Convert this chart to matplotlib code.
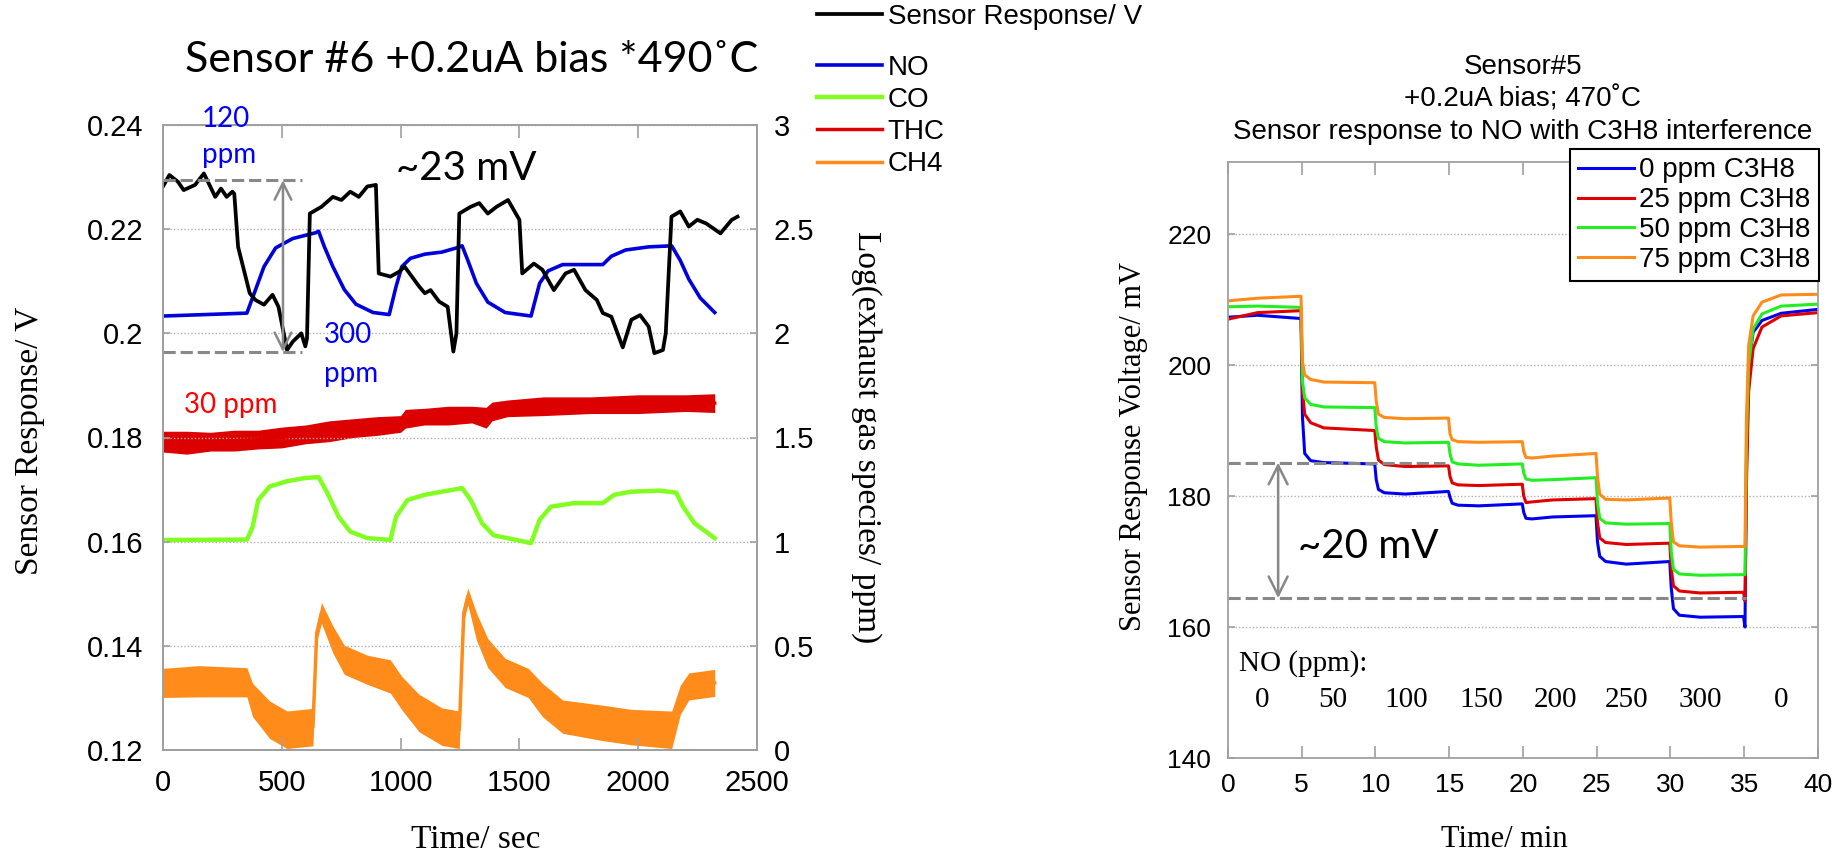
import matplotlib
matplotlib.use('Agg')
import matplotlib.pyplot as plt
from matplotlib.ticker import FuncFormatter

SANS = ['Liberation Sans', 'DejaVu Sans']
SERIF = ['Liberation Serif', 'DejaVu Serif']
CAL = ['Lato', 'DejaVu Sans']
plt.rcParams['font.family'] = SANS

# ---------------- left panel: sensor #6 ----------------
black_t = [0, 27, 63, 87, 135, 172, 220, 244, 268, 292, 300, 316, 365, 389, 425, 461, 486, 522, 546, 582,
           599, 606, 618, 667, 715, 751, 788, 824, 860, 896, 908, 957, 993, 1017, 1078, 1102, 1126, 1162, 1198, 1222,
           1235, 1247, 1295, 1331, 1367, 1404, 1452, 1500, 1512, 1561, 1597, 1645, 1694, 1730, 1778, 1826, 1851, 1887,
           1935, 1971, 2008, 2044, 2068, 2104, 2116, 2140, 2177, 2213, 2249, 2286, 2346, 2394, 2418]
black_v = [.2282, .2304, .2291, .2275, .2285, .2307, .2262, .2278, .2262, .2272, .2268, .2166, .2077, .2064, .2055,
           .2074, .2051, .1968, .1984, .2000, .1975, .1990, .2230, .2243, .2262, .2256, .2272, .2262, .2282, .2285,
           .2115, .2109, .2118, .2128, .2090, .2077, .2083, .2061, .2051, .1965, .2000, .2230, .2243, .2250, .2230,
           .2243, .2256, .2218, .2115, .2134, .2122, .2083, .2115, .2122, .2083, .2064, .2039, .2032, .1973, .2026,
           .2035, .2013, .1962, .1968, .2000, .2224, .2234, .2205, .2218, .2211, .2192, .2218, .2224]

no_t = [0, 353, 389, 425, 474, 546, 643, 655, 679, 715, 763, 812, 884, 952, 981, 1005, 1041, 1102, 1174, 1235,
        1259, 1283, 1319, 1367, 1440, 1549, 1585, 1621, 1682, 1851, 1887, 1947, 2044, 2141, 2177, 2213, 2261, 2322]
no_log = [2.083, 2.097, 2.208, 2.32, 2.41, 2.455, 2.483, 2.49, 2.416, 2.32, 2.21, 2.14, 2.10, 2.09, 2.225, 2.32,
          2.36, 2.38, 2.39, 2.41, 2.42, 2.35, 2.24, 2.15, 2.10, 2.083, 2.24, 2.30, 2.33, 2.33, 2.37, 2.40, 2.415,
          2.42, 2.35, 2.26, 2.17, 2.10]

co_t = [0, 353, 377, 401, 449, 522, 594, 655, 691, 739, 788, 860, 957, 981, 1029, 1102, 1174, 1259, 1295, 1343,
        1392, 1488, 1549, 1585, 1633, 1730, 1851, 1899, 1971, 2092, 2160, 2189, 2237, 2322]
co_log = [1.008, 1.01, 1.07, 1.20, 1.265, 1.29, 1.305, 1.31, 1.235, 1.12, 1.048, 1.017, 1.008, 1.12, 1.20, 1.225,
          1.24, 1.257, 1.20, 1.088, 1.03, 1.008, 0.993, 1.105, 1.168, 1.185, 1.185, 1.225, 1.24, 1.245, 1.235,
          1.168, 1.088, 1.017]

thc_t = [0, 100, 200, 300, 400, 500, 600, 700, 800, 900, 1000, 1020, 1100, 1200, 1300, 1360, 1385, 1450, 1600,
         1800, 2000, 2200, 2322]
thc_log = [1.48, 1.475, 1.48, 1.485, 1.49, 1.50, 1.515, 1.53, 1.545, 1.555, 1.565, 1.59, 1.60, 1.605, 1.61, 1.595,
           1.625, 1.64, 1.65, 1.655, 1.66, 1.665, 1.665]
thc_spread = [0.05, 0.055, 0.045, 0.05, 0.045, 0.05, 0.045, 0.05, 0.045, 0.045, 0.04, 0.045, 0.04, 0.045, 0.04,
              0.05, 0.045, 0.04, 0.045, 0.04, 0.045, 0.04, 0.045]

ch4_t = [0, 150, 353, 377, 449, 522, 631, 647, 667, 715, 763, 860, 957, 1005, 1078, 1174, 1247, 1266, 1283, 1319,
         1367, 1440, 1537, 1597, 1682, 1851, 1971, 2141, 2177, 2213, 2322]
ch4_log = [0.322, 0.33, 0.325, 0.24, 0.145, 0.097, 0.11, 0.5625, 0.658, 0.53, 0.433, 0.385, 0.353, 0.273, 0.177,
           0.112, 0.097, 0.658, 0.738, 0.593, 0.465, 0.37, 0.322, 0.24, 0.16, 0.13, 0.11, 0.097, 0.24, 0.305, 0.322]
ch4_spread = [0.07, 0.075, 0.07, 0.08, 0.09, 0.09, 0.09, 0.04, 0.05, 0.065, 0.07, 0.07, 0.08, 0.08, 0.09, 0.09,
              0.09, 0.04, 0.04, 0.065, 0.07, 0.07, 0.07, 0.08, 0.08, 0.085, 0.085, 0.09, 0.07, 0.065, 0.065]

left_gap = [0.2294, 0.1964]      # ~23 mV marker levels (V)

# ---------------- right panel: sensor #5 ----------------
t_min = [0, 2, 4.95, 5.05, 5.2, 5.6, 6.5, 9.95, 10.05, 10.2, 10.6, 12, 14.95, 15.05, 15.2, 15.6, 17, 19.95,
         20.05, 20.2, 20.6, 22, 24.95, 25.05, 25.2, 25.6, 27, 29.95, 30.05, 30.2, 30.6, 32, 34.95,
         35.05, 35.15, 35.3, 35.6, 36.2, 37.5, 40]
c3h8_0 = [207.3, 207.6, 207.1, 192, 186.5, 185.4, 185.1, 184.9, 182.5, 181.0, 180.5, 180.3, 180.7,
          179.8, 178.9, 178.6, 178.5, 178.8, 177.5, 176.6, 176.5, 176.8, 177.0, 173, 170.8, 170.0, 169.6, 170.0,
          166, 162.8, 161.8, 161.5, 161.6, 160.0, 185, 200, 205, 206.8, 207.9, 208.5]
c3h8_25 = [207.0, 208.0, 208.3, 196, 192.5, 191.2, 190.4, 190.0, 187.5, 185.5, 184.8, 184.5, 184.6,
           183.0, 182.0, 181.7, 181.6, 181.8, 180.0, 179.0, 179.1, 179.4, 179.6, 176.0, 173.6, 172.9, 172.6, 172.8,
           169, 166.3, 165.5, 165.2, 165.3, 164.0, 182, 196, 202.5, 205.8, 207.5, 208.0]
c3h8_50 = [208.9, 209.0, 208.8, 197.5, 195.0, 194.0, 193.6, 193.5, 190.5, 188.8, 188.3, 188.1, 188.2,
           186.5, 185.2, 184.9, 184.7, 184.9, 183.5, 182.6, 182.4, 182.5, 182.8, 179, 176.6, 175.9, 175.7, 175.8,
           171.5, 168.8, 168.1, 167.9, 168.0, 168.0, 188, 200, 205.5, 207.8, 209.0, 209.3]
c3h8_75 = [209.8, 210.2, 210.5, 200.5, 198.5, 197.8, 197.4, 197.3, 194.5, 192.5, 192.0, 191.8, 191.9,
           189.5, 188.6, 188.3, 188.2, 188.3, 186.8, 185.9, 185.8, 186.1, 186.5, 183, 180.3, 179.5, 179.4, 179.7,
           176, 173.0, 172.4, 172.2, 172.3, 172.3, 192, 203, 207.5, 209.6, 210.7, 210.8]
c3h8_labels = ['0 ppm C3H8', '25 ppm C3H8', '50 ppm C3H8', '75 ppm C3H8']
no_steps = ['0', '50', '100', '150', '200', '250', '300', '0']
no_step_x = [2.3, 7.1, 12.1, 17.2, 22.2, 27.0, 32.0, 37.5]
right_gap = [185.1, 164.4]       # ~20 mV marker levels (mV)

W, H = 1849, 857
fig = plt.figure(figsize=(W / 100, H / 100), dpi=100)

FRAME = '#a0a0a0'
GRID = dict(linestyle=(0, (1, 1.5)), color='#b0b0b0', linewidth=1.0)

# ---- left axes ----
ax2 = fig.add_axes([163 / W, 1 - 750 / H, 594 / W, 625 / H])
ax = ax2.twinx()
ax.yaxis.tick_left()
ax.yaxis.set_label_position('left')
ax2.yaxis.tick_right()
ax2.yaxis.set_label_position('right')
ax.set_zorder(ax2.get_zorder() + 1)
ax.patch.set_visible(False)

ax2.fill_between(thc_t, [m - s for m, s in zip(thc_log, thc_spread)],
                 [m + s for m, s in zip(thc_log, thc_spread)], color='#dd0000', lw=0)
ax2.fill_between(ch4_t, [m - s for m, s in zip(ch4_log, ch4_spread)],
                 [m + s for m, s in zip(ch4_log, ch4_spread)], color='#ff8c1a', lw=0)
l_no, = ax2.plot(no_t, no_log, color='#0000dd', lw=2.6, label='NO')
l_co, = ax2.plot(co_t, co_log, color='#80ff20', lw=3.2, label='CO')
l_thc, = ax2.plot(thc_t, thc_log, color='#dd0000', lw=2.5, label='THC')
l_ch4, = ax2.plot(ch4_t, ch4_log, color='#ff8c1a', lw=2.5, label='CH4')
l_blk, = ax.plot(black_t, black_v, color='black', lw=2.7, label='Sensor Response/ V')

ax.set_xlim(0, 2500)
ax.set_ylim(0.12, 0.24)
ax2.set_ylim(0, 3)
ax2.set_xticks([0, 500, 1000, 1500, 2000, 2500])
ax.set_yticks([0.12, 0.14, 0.16, 0.18, 0.20, 0.22, 0.24])
ax2.set_yticks([0, 0.5, 1, 1.5, 2, 2.5, 3])
ax.yaxis.set_major_formatter(FuncFormatter(lambda v, p: '%g' % round(v, 3)))
ax2.yaxis.set_major_formatter(FuncFormatter(lambda v, p: '%g' % v))
ax2.yaxis.grid(True, **GRID)
ax2.tick_params(axis='x', direction='in', length=9, width=1.2, color=FRAME, top=True, labelsize=21, pad=14)
ax2.tick_params(axis='y', direction='in', length=5, width=1.2, color=FRAME, labelsize=21, pad=12)
ax.tick_params(axis='y', direction='in', length=5, width=1.2, color=FRAME, labelsize=21, pad=14)
for a in (ax, ax2):
    for s in a.spines.values():
        s.set_color(FRAME)
        s.set_linewidth(1.3)

ax.set_ylabel('Sensor Response/ V', family=SERIF, fontsize=24, va='center')
ax.yaxis.set_label_coords(-0.225, 0.495)
ax2.set_ylabel('Log(exhaust gas species/ ppm)', family=SERIF, fontsize=24, rotation=270,
               va='center', ha='center')
ax2.yaxis.set_label_coords(1.185, 0.5)
ax2.set_xlabel('Time/ sec', family=SERIF, fontsize=24, va='center')
ax2.xaxis.set_label_coords(0.527, -0.144)

# ~23 mV marker
for lev in left_gap:
    ax.plot([0, 585], [lev, lev], color='#888888', lw=2.2, ls=(0, (4, 1.6)))
ax.annotate('', xy=(505, left_gap[1]), xytext=(505, left_gap[0]),
            arrowprops=dict(arrowstyle='<->', color='#888888', lw=1.8, mutation_scale=30,
                            shrinkA=0, shrinkB=0))
ax.text(981, 0.2294, '~23 mV', family=CAL, fontsize=29, va='baseline')
ax.text(164, 0.2396, '120', family=CAL, fontsize=20, color='#0000ff', va='baseline')
ax.text(164, 0.2327, 'ppm', family=CAL, fontsize=20, color='#0000ff', va='baseline')
ax.text(678, 0.1982, '300', family=CAL, fontsize=20, color='#0000ff', va='baseline')
ax.text(678, 0.1907, 'ppm', family=CAL, fontsize=20, color='#0000ff', va='baseline')
ax.text(88, 0.1847, '30 ppm', family=CAL, fontsize=20, color='#ff0000', va='baseline')

fig.text(472 / W, 1 - 72 / H, 'Sensor #6 +0.2uA bias *490˚C', family=CAL, fontsize=31,
         ha='center', va='baseline')

fig.legend(handles=[l_blk], loc='upper left', bbox_to_anchor=(817 / W, 1 - 4 / H), frameon=False,
           fontsize=20, handlelength=2.35, handletextpad=0.2, borderpad=0, borderaxespad=0)
fig.legend(handles=[l_no, l_co, l_thc, l_ch4], loc='upper left', bbox_to_anchor=(817 / W, 1 - 55 / H),
           frameon=False, fontsize=20, handlelength=2.35, handletextpad=0.2, borderpad=0,
           borderaxespad=0, labelspacing=0.22)

# ---- right axes ----
ax3 = fig.add_axes([1228 / W, 1 - 758 / H, 590 / W, 596 / H])
colors = ['#0000ee', '#e00000', '#22ee22', '#ff8c1a']
for vals, lab, c in zip([c3h8_0, c3h8_25, c3h8_50, c3h8_75], c3h8_labels, colors):
    ax3.plot(t_min, vals, color=c, lw=2.2, label=lab)

ax3.set_xlim(0, 40)
ax3.set_ylim(140, 231)
ax3.set_xticks(range(0, 41, 5))
ax3.set_yticks([140, 160, 180, 200, 220])
ax3.yaxis.grid(True, **GRID)
ax3.tick_params(axis='x', direction='in', length=9, width=1.2, color=FRAME, top=True, labelsize=19, pad=11)
ax3.tick_params(axis='y', direction='in', length=5, width=1.2, color=FRAME, right=True, labelsize=19, pad=12)
for s in ax3.spines.values():
    s.set_color(FRAME)
    s.set_linewidth(1.3)

ax3.set_ylabel('Sensor Response Voltage/ mV', family=SERIF, fontsize=22, va='center')
ax3.yaxis.set_label_coords(-0.16, 0.522)
ax3.set_xlabel('Time/ min', family=SERIF, fontsize=22, va='center')
ax3.xaxis.set_label_coords(0.469, -0.136)
ax3.text(0.5, 1.105, 'Sensor#5\n+0.2uA bias; 470˚C\nSensor response to NO with C3H8 interference',
         transform=ax3.transAxes, ha='center', va='center', fontsize=20, linespacing=1.3)

leg = ax3.legend(loc='upper right', bbox_to_anchor=(1.0017, 1.0218), fontsize=20, fancybox=False,
                 edgecolor='black', framealpha=1, handlelength=2.0, handletextpad=0.2, labelspacing=0.14,
                 borderpad=0.3, borderaxespad=0)
leg.get_frame().set_linewidth(1.5)

for lev, x1 in zip(right_gap, [14.7, 35.1]):
    ax3.plot([0, x1], [lev, lev], color='#888888', lw=2.2, ls=(0, (4, 1.6)))
ax3.annotate('', xy=(3.4, right_gap[1]), xytext=(3.4, right_gap[0]),
             arrowprops=dict(arrowstyle='<->', color='#888888', lw=1.8, mutation_scale=34,
                             shrinkA=0, shrinkB=0))
ax3.text(4.75, 170.6, '~20 mV', family=CAL, fontsize=29, va='baseline')
ax3.text(0.75, 153.4, 'NO (ppm):', family=SERIF, fontsize=21, va='baseline')
for x, s in zip(no_step_x, no_steps):
    ax3.text(x, 147.8, s, family=SERIF, fontsize=21, ha='center', va='baseline')

fig.savefig('out.png', dpi=100)
